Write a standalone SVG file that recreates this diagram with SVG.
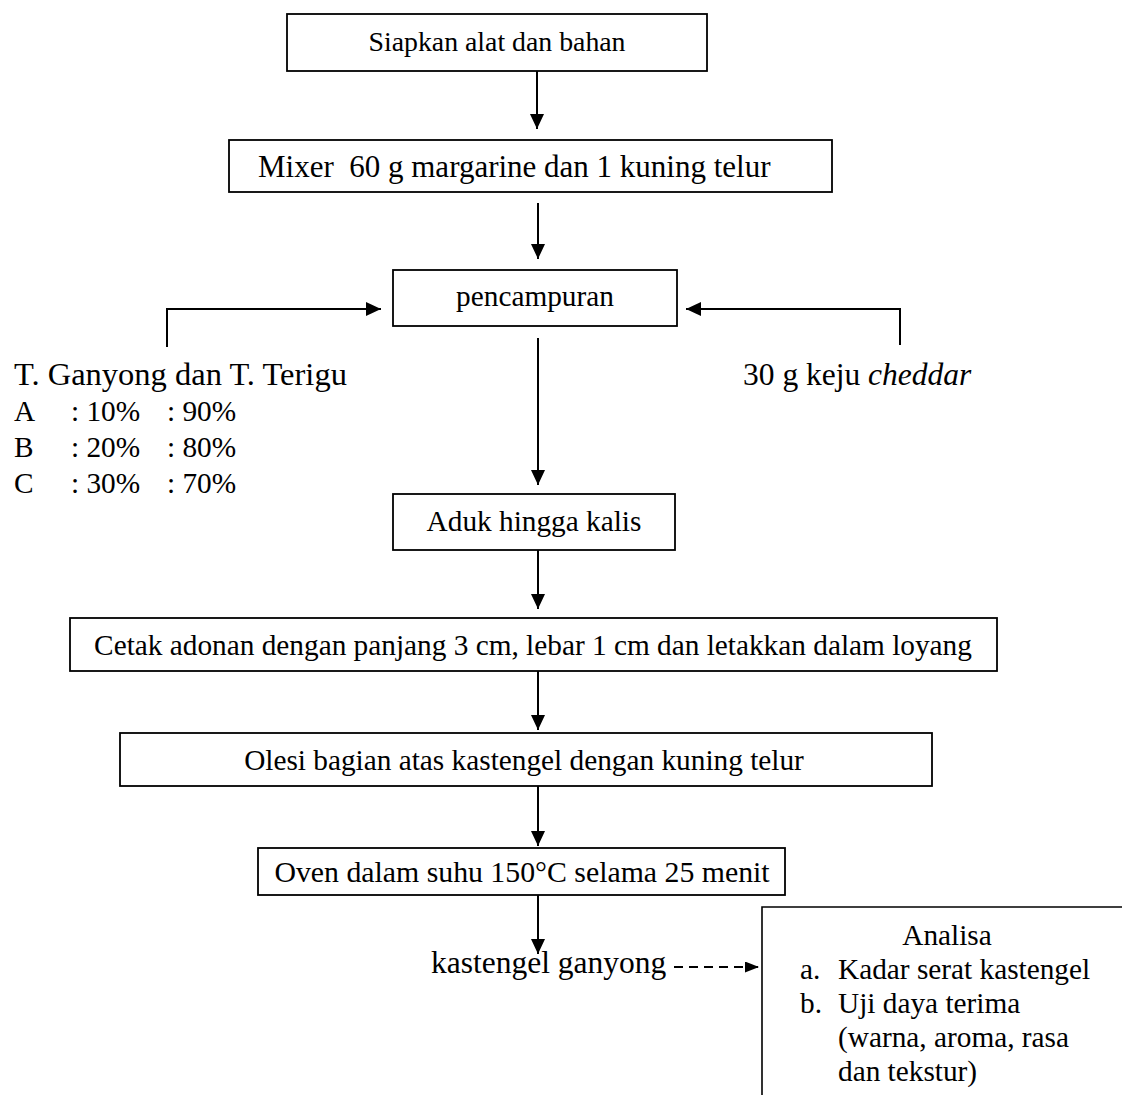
<svg xmlns="http://www.w3.org/2000/svg" width="1122" height="1095" viewBox="0 0 1122 1095">
<style>
.box{fill:#fff;stroke:#000;stroke-width:1.8}
.t{font-family:"Liberation Serif","Times New Roman",serif;font-size:29.3px;fill:#000}
.big{font-size:31.5px}
.c{text-anchor:middle}
.ln{fill:none;stroke:#000;stroke-width:2}
.dash{fill:none;stroke:#000;stroke-width:2;stroke-dasharray:9 6}
</style>
<defs>
<marker id="ah" viewBox="0 0 15 14" refX="15" refY="7" markerWidth="15" markerHeight="14" markerUnits="userSpaceOnUse" orient="auto">
<path d="M0,0 L15,7 L0,14 Z" fill="#000"/>
</marker>
<marker id="ahs" viewBox="0 0 14 11" refX="14" refY="5.5" markerWidth="14" markerHeight="11" markerUnits="userSpaceOnUse" orient="auto">
<path d="M0,0 L14,5.5 L0,11 Z" fill="#000"/>
</marker>
</defs>
<rect width="1122" height="1095" fill="#fff"/>
<g id="connectors">
<line class="ln" x1="537" y1="71" x2="537" y2="129" marker-end="url(#ah)"/>
<line class="ln" x1="538" y1="203" x2="538" y2="259" marker-end="url(#ah)"/>
<polyline class="ln" points="167,347 167,309 381,309" marker-end="url(#ah)"/>
<polyline class="ln" points="900,345 900,309 686,309" marker-end="url(#ah)"/>
<line class="ln" x1="538" y1="338" x2="538" y2="485" marker-end="url(#ah)"/>
<line class="ln" x1="538" y1="550" x2="538" y2="609" marker-end="url(#ah)"/>
<line class="ln" x1="538" y1="671" x2="538" y2="730" marker-end="url(#ah)"/>
<line class="ln" x1="538" y1="786" x2="538" y2="846" marker-end="url(#ah)"/>
<line class="ln" x1="538" y1="895" x2="538" y2="954" marker-end="url(#ah)"/>
<line class="dash" x1="674" y1="967" x2="759" y2="967" marker-end="url(#ahs)"/>
</g>
<g id="n1">
<rect class="box" x="287" y="14" width="420" height="57"/>
<text class="t c" x="497" y="51" style="font-size:27.8px">Siapkan alat dan bahan</text>
</g>
<g id="n2">
<rect class="box" x="229" y="140" width="603" height="52"/>
<text class="t" x="258" y="177" style="font-size:31px" xml:space="preserve">Mixer  60 g margarine dan 1 kuning telur</text>
</g>
<g id="n3">
<rect class="box" x="393" y="270" width="284" height="56"/>
<text class="t c" x="535" y="306">pencampuran</text>
</g>
<g id="n4">
<text class="t" x="14" y="385" style="font-size:32.5px">T. Ganyong dan T. Terigu</text>
<text class="t" x="14" y="421">A</text><text class="t" x="71" y="421">: 10%</text><text class="t" x="167" y="421">: 90%</text>
<text class="t" x="14" y="457">B</text><text class="t" x="71" y="457">: 20%</text><text class="t" x="167" y="457">: 80%</text>
<text class="t" x="14" y="493">C</text><text class="t" x="71" y="493">: 30%</text><text class="t" x="167" y="493">: 70%</text>
</g>
<g id="n5">
<text class="t big" x="743" y="385">30 g keju <tspan font-style="italic">cheddar</tspan></text>
</g>
<g id="n6">
<rect class="box" x="393" y="494" width="282" height="56"/>
<text class="t c" x="534" y="531">Aduk hingga kalis</text>
</g>
<g id="n7">
<rect class="box" x="70" y="618" width="927" height="53"/>
<text class="t c" x="533" y="655">Cetak adonan dengan panjang 3 cm, lebar 1 cm dan letakkan dalam loyang</text>
</g>
<g id="n8">
<rect class="box" x="120" y="733" width="812" height="53"/>
<text class="t c" x="524" y="770">Olesi bagian atas kastengel dengan kuning telur</text>
</g>
<g id="n9">
<rect class="box" x="258" y="848" width="527" height="47"/>
<text class="t c" x="522" y="882" style="font-size:29.8px">Oven dalam suhu 150°C selama 25 menit</text>
</g>
<g id="n10">
<text class="t big" x="431" y="973">kastengel ganyong</text>
</g>
<g id="n11">
<polyline class="ln" points="762,1095 762,907 1122,907" style="stroke-width:1.6"/>
<text class="t c" x="947" y="945">Analisa</text>
<text class="t" x="800" y="979">a.</text><text class="t" x="838" y="979">Kadar serat kastengel</text>
<text class="t" x="800" y="1013">b.</text><text class="t" x="838" y="1013">Uji daya terima</text>
<text class="t" x="838" y="1047">(warna, aroma, rasa</text>
<text class="t" x="838" y="1081">dan tekstur)</text>
</g>
</svg>
